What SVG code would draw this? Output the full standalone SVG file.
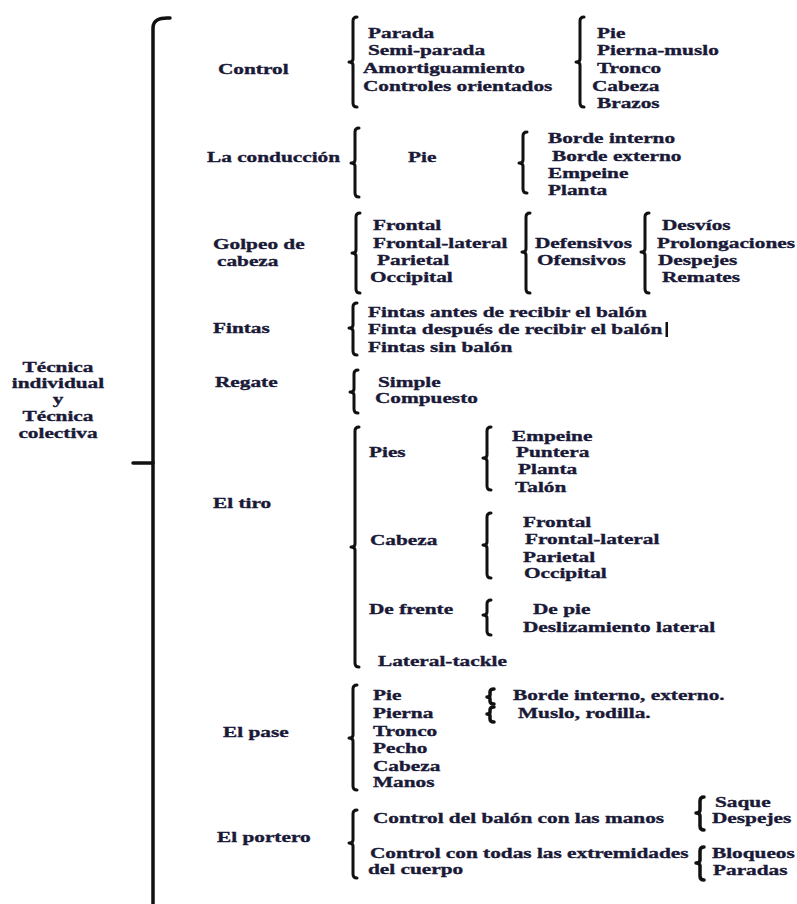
<svg xmlns="http://www.w3.org/2000/svg" width="797" height="904" viewBox="0 0 797 904">
<style>
.t{font-family:"Liberation Serif","Times New Roman",serif;font-weight:bold;font-size:15px;fill:#1a1a38;stroke:#1a1a38;stroke-width:0.35}
.m{text-anchor:middle}
.b{fill:none;stroke:#111;stroke-width:3;stroke-linecap:round;stroke-linejoin:round}
.bb{fill:none;stroke:#111;stroke-width:3.5;stroke-linecap:round}
.s{fill:none;stroke:#111;stroke-width:3.5;stroke-linecap:round;stroke-linejoin:round}
</style>
<rect width="797" height="904" fill="#fff"/>
<g id="connectors">
<path class="bb" d="M170 18Q153 17 153 28V904"/>
<path class="bb" d="M133 463H153"/>
<path class="b" d="M357 17Q353 17 353 21V59Q353 62 349 62Q353 62 353 65V103Q353 107 357 107"/>
<path class="b" d="M584 17Q580 17 580 21V59Q580 62 576 62Q580 62 580 65V103Q580 107 584 107"/>
<path class="b" d="M359 128Q355 128 355 132V160Q355 163 351 163Q355 163 355 166V193Q355 197 359 197"/>
<path class="b" d="M527 132Q523 132 523 136V160Q523 163 519 163Q523 163 523 166V189Q523 193 527 193"/>
<path class="b" d="M360 213Q356 213 356 217V250Q356 253 352 253Q356 253 356 256V289Q356 293 360 293"/>
<path class="b" d="M530 213Q526 213 526 217V249Q526 252 522 252Q526 252 526 255V289Q526 293 530 293"/>
<path class="b" d="M649 213Q645 213 645 217V249Q645 252 641 252Q645 252 645 255V289Q645 293 649 293"/>
<path class="b" d="M357 303Q353 303 353 307V325Q353 328 349 328Q353 328 353 331V351Q353 355 357 355"/>
<path class="b" d="M358 370Q354 370 354 374V389Q354 392 350 392Q354 392 354 395V409Q354 413 358 413"/>
<path class="b" d="M359 427Q355 427 355 431V544Q355 547 351 547Q355 547 355 550V663Q355 667 359 667"/>
<path class="b" d="M491 427Q487 427 487 431V455Q487 458 483 458Q487 458 487 461V486Q487 490 491 490"/>
<path class="b" d="M491 513Q487 513 487 517V542Q487 545 483 545Q487 545 487 548V574Q487 578 491 578"/>
<path class="b" d="M491 600Q487 600 487 604V612Q487 615 483 615Q487 615 487 618V631Q487 635 491 635"/>
<path class="b" d="M357 685Q353 685 353 689V735Q353 738 349 738Q353 738 353 741V786Q353 790 357 790"/>
<path class="s" d="M494 689Q490 689 490 692V695Q490 697 487 697Q490 697 490 699V701Q490 704 494 704"/>
<path class="s" d="M494 707Q490 707 490 710V712Q490 714 487 714Q490 714 490 716V719Q490 722 494 722"/>
<path class="b" d="M357 810Q353 810 353 814V840Q353 843 349 843Q353 843 353 846V874Q353 878 357 878"/>
<path class="s" d="M704 797Q700 797 700 801V810Q700 813 696 813Q700 813 700 816V826Q700 830 704 830"/>
<path class="s" d="M704 847Q700 847 700 851V860Q700 863 696 863Q700 863 700 866V876Q700 880 704 880"/>
</g>
<g id="root">
<text class="t m" transform="translate(58 372) scale(1.42 1)">Técnica</text>
<text class="t m" transform="translate(58 388) scale(1.42 1)">individual</text>
<text class="t m" transform="translate(58 404) scale(1.42 1)">y</text>
<text class="t m" transform="translate(58 421) scale(1.42 1)">Técnica</text>
<text class="t m" transform="translate(58 438) scale(1.42 1)">colectiva</text>
</g>
<g id="control">
<text class="t" transform="translate(218 74) scale(1.42 1)">Control</text>
<text class="t" transform="translate(368 38) scale(1.42 1)">Parada</text>
<text class="t" transform="translate(368 55) scale(1.42 1)">Semi-parada</text>
<text class="t" transform="translate(363 73) scale(1.42 1)">Amortiguamiento</text>
<text class="t" transform="translate(363 91) scale(1.42 1)">Controles orientados</text>
<text class="t" transform="translate(597 38) scale(1.42 1)">Pie</text>
<text class="t" transform="translate(597 55) scale(1.42 1)">Pierna-muslo</text>
<text class="t" transform="translate(597 73) scale(1.42 1)">Tronco</text>
<text class="t" transform="translate(592 91) scale(1.42 1)">Cabeza</text>
<text class="t" transform="translate(597 108) scale(1.42 1)">Brazos</text>
</g>
<g id="conduccion">
<text class="t" transform="translate(207 162) scale(1.42 1)">La conducción</text>
<text class="t" transform="translate(408 162) scale(1.42 1)">Pie</text>
<text class="t" transform="translate(548 143) scale(1.42 1)">Borde interno</text>
<text class="t" transform="translate(552 161) scale(1.42 1)">Borde externo</text>
<text class="t" transform="translate(548 178) scale(1.42 1)">Empeine</text>
<text class="t" transform="translate(548 195) scale(1.42 1)">Planta</text>
</g>
<g id="golpeo">
<text class="t" transform="translate(213 249) scale(1.42 1)">Golpeo de</text>
<text class="t" transform="translate(217 266) scale(1.42 1)">cabeza</text>
<text class="t" transform="translate(373 230) scale(1.42 1)">Frontal</text>
<text class="t" transform="translate(373 248) scale(1.42 1)">Frontal-lateral</text>
<text class="t" transform="translate(377 265) scale(1.42 1)">Parietal</text>
<text class="t" transform="translate(370 282) scale(1.42 1)">Occipital</text>
<text class="t" transform="translate(535 248) scale(1.42 1)">Defensivos</text>
<text class="t" transform="translate(537 265) scale(1.42 1)">Ofensivos</text>
<text class="t" transform="translate(662 230) scale(1.42 1)">Desvíos</text>
<text class="t" transform="translate(657 248) scale(1.42 1)">Prolongaciones</text>
<text class="t" transform="translate(658 265) scale(1.42 1)">Despejes</text>
<text class="t" transform="translate(662 282) scale(1.42 1)">Remates</text>
</g>
<g id="fintas">
<text class="t" transform="translate(213 333) scale(1.42 1)">Fintas</text>
<text class="t" transform="translate(368 317) scale(1.42 1)">Fintas antes de recibir el balón</text>
<text class="t" transform="translate(368 334) scale(1.42 1)">Finta después de recibir el balón</text>
<text class="t" transform="translate(368 352) scale(1.42 1)">Fintas sin balón</text>
<rect x="665.5" y="322" width="2.5" height="15" fill="#111"/>
</g>
<g id="regate">
<text class="t" transform="translate(215 387) scale(1.42 1)">Regate</text>
<text class="t" transform="translate(378 387) scale(1.42 1)">Simple</text>
<text class="t" transform="translate(375 403) scale(1.42 1)">Compuesto</text>
</g>
<g id="tiro">
<text class="t" transform="translate(213 508) scale(1.42 1)">El tiro</text>
<text class="t" transform="translate(369 457) scale(1.42 1)">Pies</text>
<text class="t" transform="translate(370 545) scale(1.42 1)">Cabeza</text>
<text class="t" transform="translate(369 614) scale(1.42 1)">De frente</text>
<text class="t" transform="translate(378 666) scale(1.42 1)">Lateral-tackle</text>
<text class="t" transform="translate(512 441) scale(1.42 1)">Empeine</text>
<text class="t" transform="translate(516 457) scale(1.42 1)">Puntera</text>
<text class="t" transform="translate(518 474) scale(1.42 1)">Planta</text>
<text class="t" transform="translate(515 492) scale(1.42 1)">Talón</text>
<text class="t" transform="translate(523 527) scale(1.42 1)">Frontal</text>
<text class="t" transform="translate(525 544) scale(1.42 1)">Frontal-lateral</text>
<text class="t" transform="translate(523 562) scale(1.42 1)">Parietal</text>
<text class="t" transform="translate(524 578) scale(1.42 1)">Occipital</text>
<text class="t" transform="translate(533 614) scale(1.42 1)">De pie</text>
<text class="t" transform="translate(523 632) scale(1.42 1)">Deslizamiento lateral</text>
</g>
<g id="pase">
<text class="t" transform="translate(223 737) scale(1.42 1)">El pase</text>
<text class="t" transform="translate(373 700) scale(1.42 1)">Pie</text>
<text class="t" transform="translate(373 718) scale(1.42 1)">Pierna</text>
<text class="t" transform="translate(373 736) scale(1.42 1)">Tronco</text>
<text class="t" transform="translate(373 753) scale(1.42 1)">Pecho</text>
<text class="t" transform="translate(373 771) scale(1.42 1)">Cabeza</text>
<text class="t" transform="translate(373 787) scale(1.42 1)">Manos</text>
<text class="t" transform="translate(513 700) scale(1.42 1)">Borde interno, externo.</text>
<text class="t" transform="translate(518 718) scale(1.42 1)">Muslo, rodilla.</text>
</g>
<g id="portero">
<text class="t" transform="translate(217 842) scale(1.42 1)">El portero</text>
<text class="t" transform="translate(373 823) scale(1.42 1)">Control del balón con las manos</text>
<text class="t" transform="translate(370 858) scale(1.42 1)">Control con todas las extremidades</text>
<text class="t" transform="translate(368 874) scale(1.42 1)">del cuerpo</text>
<text class="t" transform="translate(715 807) scale(1.42 1)">Saque</text>
<text class="t" transform="translate(712 823) scale(1.42 1)">Despejes</text>
<text class="t" transform="translate(712 858) scale(1.42 1)">Bloqueos</text>
<text class="t" transform="translate(713 875) scale(1.42 1)">Paradas</text>
</g>
</svg>
